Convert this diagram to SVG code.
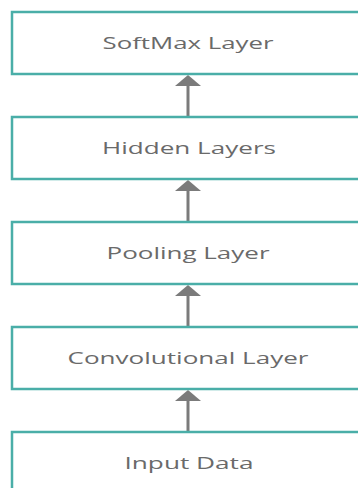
<svg xmlns="http://www.w3.org/2000/svg" width="358" height="488" viewBox="0 0 358 488">
  <defs>
    <style>
      .box { fill: #ffffff; stroke: #4aaea8; stroke-width: 2.5; }
      .label { font-family: "Open Sans", "Liberation Sans", sans-serif; font-size: 16.5px; fill: #6a6a6a; text-anchor: middle; }
      .shaft { stroke: #7b7b7b; stroke-width: 3; fill: none; }
      .head { fill: #7b7b7b; }
    </style>
  </defs>
  <rect width="358" height="488" fill="#ffffff"/>

  <!-- connectors: each arrow points up into the layer above -->
  <g id="connectors">
    <line class="shaft" x1="188" y1="117" x2="188" y2="84"/>
    <polygon class="head" points="188,75 201,86 175,86"/>
    <line class="shaft" x1="188" y1="222" x2="188" y2="189"/>
    <polygon class="head" points="188,180 201,191 175,191"/>
    <line class="shaft" x1="188" y1="327" x2="188" y2="294"/>
    <polygon class="head" points="188,285 201,296 175,296"/>
    <line class="shaft" x1="188" y1="432" x2="188" y2="399"/>
    <polygon class="head" points="188,390 201,401 175,401"/>
  </g>

  <g id="softmax">
    <rect class="box" x="12" y="12" width="370" height="62"/>
    <text class="label" x="188" y="49" textLength="171" lengthAdjust="spacingAndGlyphs">SoftMax Layer</text>
  </g>
  <g id="hidden">
    <rect class="box" x="12" y="117" width="370" height="62"/>
    <text class="label" x="189" y="154" textLength="174" lengthAdjust="spacingAndGlyphs">Hidden Layers</text>
  </g>
  <g id="pooling">
    <rect class="box" x="12" y="222" width="370" height="62"/>
    <text class="label" x="188" y="259" textLength="163" lengthAdjust="spacingAndGlyphs">Pooling Layer</text>
  </g>
  <g id="convolutional">
    <rect class="box" x="12" y="327" width="370" height="62"/>
    <text class="label" x="188" y="364" textLength="241" lengthAdjust="spacingAndGlyphs">Convolutional Layer</text>
  </g>
  <g id="input">
    <rect class="box" x="12" y="432" width="370" height="62"/>
    <text class="label" x="189" y="469" textLength="129" lengthAdjust="spacingAndGlyphs">Input Data</text>
  </g>
</svg>
